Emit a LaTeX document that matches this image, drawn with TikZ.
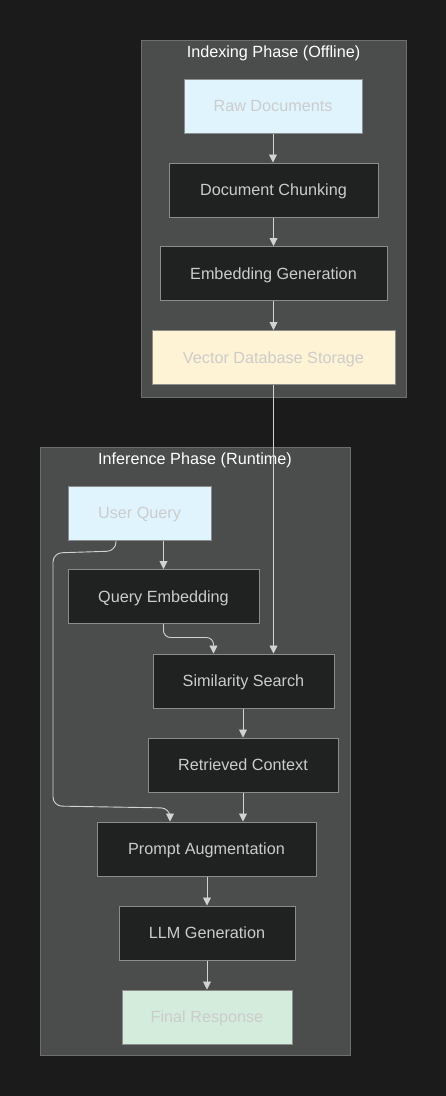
\documentclass[tikz,border=0pt]{standalone}
\usepackage{fontspec}
\setmainfont{Liberation Sans}
\usetikzlibrary{arrows.meta,calc}
\definecolor{bg}{RGB}{27,27,27}
\definecolor{clfill}{RGB}{75,76,76}
\definecolor{clborder}{RGB}{110,110,110}
\definecolor{dkfill}{RGB}{32,33,33}
\definecolor{ndborder}{RGB}{140,140,140}
\definecolor{txt}{RGB}{204,204,204}
\definecolor{lblue}{RGB}{224,244,253}
\definecolor{lyellow}{RGB}{255,243,214}
\definecolor{lgreen}{RGB}{212,236,220}
\definecolor{edgec}{RGB}{210,210,210}
\tikzset{
  cluster/.style={draw=clborder, fill=clfill, line width=1pt, inner sep=0pt},
  cltitle/.style={text=white, font=\fontsize{16.2}{19}\selectfont, anchor=north, inner sep=0pt, text height=11.6pt},
  box/.style={draw=ndborder, line width=1pt, inner sep=0pt, text=txt, font=\fontsize{16.2}{19}\selectfont, minimum height=54pt, text height=11.6pt, text depth=0pt},
  darkbox/.style={box, fill=dkfill},
  bluebox/.style={box, fill=lblue},
  yellowbox/.style={box, fill=lyellow},
  greenbox/.style={box, fill=lgreen},
  edge/.style={draw=edgec, line width=0.9pt, -{Triangle[length=8pt,width=8pt]}}
}
\begin{document}
\begin{tikzpicture}[x=1pt,y=-1pt]
\fill[bg] (0,0) rectangle (446,1096);
\useasboundingbox (0,0) rectangle (446,1096);
% clusters
\node[cluster, minimum width=265pt, minimum height=357pt] (idx) at (273.5,218.5) {};
\node[cltitle] (idxt) at ([yshift=-6pt]idx.north) {Indexing Phase (Offline)};
\node[cluster, minimum width=310pt, minimum height=608pt] (inf) at (195,751) {};
\node[cltitle] (inft) at ([yshift=-6pt]inf.north) {Inference Phase (Runtime)};
% indexing nodes
\node[bluebox, minimum width=178pt] (raw) at (273,106) {Raw Documents};
\node[darkbox, minimum width=209pt] (chunk) at (273.5,190) {Document Chunking};
\node[darkbox, minimum width=227pt] (embed) at (273.5,273.5) {Embedding Generation};
\node[yellowbox, minimum width=243pt] (vdb) at (273.5,357.5) {Vector Database Storage};
% inference nodes
\node[bluebox, minimum width=143pt] (uq) at (139.5,513) {User Query};
\node[darkbox, minimum width=191pt] (qe) at (163.5,596.5) {Query Embedding};
\node[darkbox, minimum width=181pt] (ss) at (243.5,681) {Similarity Search};
\node[darkbox, minimum width=190pt] (rc) at (243,765) {Retrieved Context};
\node[darkbox, minimum width=219pt] (pa) at (206.5,849) {Prompt Augmentation};
\node[darkbox, minimum width=176pt] (llm) at (207,933) {LLM Generation};
\node[greenbox, minimum width=170pt] (fr) at (207,1017) {Final Response};
% edges
\draw[edge] (raw.south) -- (raw.south |- chunk.north);
\draw[edge] (chunk.south) -- (chunk.south |- embed.north);
\draw[edge] (embed.south) -- (embed.south |- vdb.north);
\draw[edge] (vdb.south) -- (vdb.south |- ss.north);
\draw[edge] (uq.south -| qe.north) -- (qe.north);
\draw[edge, rounded corners=7pt] (qe.south) |- ([xshift=-30pt,yshift=16pt]ss.north) -- ([xshift=-30pt]ss.north);
\draw[edge, rounded corners=9pt] ([xshift=-23.5pt]uq.south) -- (116,551) -- (53,553) -- (53,806) -- (170,808) -- ([xshift=-36.5pt]pa.north);
\draw[edge] (ss.south -| rc.north) -- (rc.north);
\draw[edge] (rc.south) -- (rc.south |- pa.north);
\draw[edge] (pa.south -| llm.north) -- (llm.north);
\draw[edge] (llm.south) -- (llm.south |- fr.north);
\end{tikzpicture}
\end{document}
